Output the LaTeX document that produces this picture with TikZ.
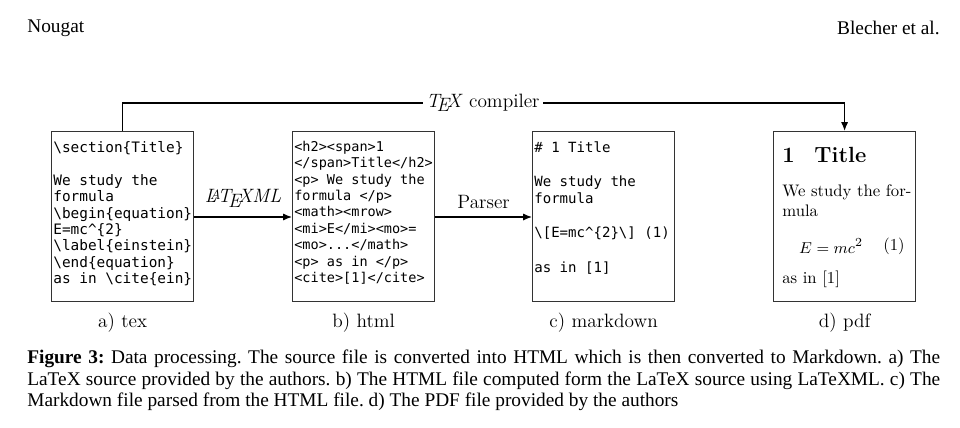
\documentclass[tikz,border=0pt]{standalone}
\usepackage{fontspec}
\usepackage{amsmath}
\usetikzlibrary{arrows.meta,positioning}
\newfontfamily\capfont{Liberation Serif}
\newfontfamily\codefont{DejaVu Sans Mono}
\tikzset{
  filebox/.style={draw=black!80, line width=0.7pt, minimum width=2.84cm,
    minimum height=3.4cm, inner sep=0pt, anchor=north west},
  code/.style={anchor=north west, inner sep=0pt, align=left},
  flow/.style={line width=0.7pt, -{Latex[length=5pt,width=4pt]}},
  steplabel/.style={inner sep=0pt, font=\fontsize{11}{13}\selectfont},
  pdftext/.style={inner sep=0pt, font=\fontsize{9.5}{11.4}\selectfont}
}

\begin{document}
\begin{tikzpicture}[x=0.02cm, y=-0.02cm]
  \useasboundingbox (0,0) rectangle (960,427);
  % running head of the page
  \node[anchor=west, inner sep=0pt, font=\capfont\fontsize{11}{13}\selectfont] (head-l) at (27,28) {Nougat};
  \node[anchor=east, inner sep=0pt, font=\capfont\fontsize{11}{13}\selectfont] (head-r) at (940,28) {Blecher et al.};
  % the four files, one box each, with their captions below
  \foreach \name/\xpos/\lab in {tex/51/{a) tex}, html/292/{b) html}, md/532/{c) markdown}, pdf/773/{d) pdf}} {
    \node[filebox] (box-\name) at (\xpos,131) {};
    \node[steplabel, below=6pt of box-\name] (lab-\name) {\lab};
  }
  % a) latex source
  \node[code, font=\codefont\fontsize{8.2}{9.35}\selectfont] (src-tex) at ([shift={(2,10)}]box-tex.north west)
    {\textbackslash section\{Title\}\\ ~\\We study the\\formula\\\textbackslash begin\{equation\}\\E=mc\textasciicircum\{2\}\\\textbackslash label\{einstein\}\\\textbackslash end\{equation\}\\as in \textbackslash cite\{ein\}};
  % b) html from latexml
  \node[code, font=\codefont\fontsize{7.7}{9.3}\selectfont] (src-html) at ([shift={(2,10)}]box-html.north west)
    {<h2><span>1\\</span>Title</h2>\\<p> We study the\\formula </p>\\<math><mrow>\\<mi>E</mi><mo>=\\<mo>...</math>\\<p> as in </p>\\<cite>[1]</cite>};
  % c) markdown
  \node[code, font=\codefont\fontsize{8}{9.75}\selectfont] (src-md) at ([shift={(2,10)}]box-md.north west)
    {\# 1 Title\\ ~\\We study the\\formula\\ ~\\\textbackslash[E=mc\textasciicircum\{2\}\textbackslash] (1)\\ ~\\as in [1]};
  % d) rendered pdf
  \node[anchor=west, inner sep=0pt, font=\bfseries\fontsize{12.5}{15}\selectfont] (pdf-title) at (782,155) {1\hspace{0.9em}Title};
  \node[pdftext, anchor=north west, align=left] (pdf-par) at (782,184) {We study the for-\\mula};
  \node[pdftext] (pdf-eq) at (831,246) {$E=mc^2$};
  \node[pdftext, anchor=east] (pdf-num) at (905,246) {(1)};
  \node[pdftext, anchor=west] (pdf-cite) at (782,279) {as in [1]};
  % conversions
  \draw[flow] (box-tex.east |- 0,217) -- node[above=2pt, font=\fontsize{11}{13}\selectfont\itshape] (lbl-latexml) {\LaTeX ML} (box-html.west |- 0,217);
  \draw[flow] (box-html.east |- 0,217) -- node[above=1pt, font=\fontsize{11}{13}\selectfont] (lbl-parser) {Parser} (box-md.west |- 0,217);
  \node[inner sep=2pt, font=\fontsize{11}{13}\selectfont] (lbl-tex) at (483,103) {\textit{\TeX} compiler};
  \draw[line width=0.7pt] (box-tex.north) |- (lbl-tex.west);
  \draw[flow] (lbl-tex.east) -| (box-pdf.north);
  % figure caption
  \node[anchor=north west, inner sep=0pt, text width=18.26cm, align=justify, font=\capfont\fontsize{11}{12.2}\selectfont] (caption) at (27,350)
    {\frenchspacing\textbf{Figure 3:} Data processing. The source file is converted into HTML which is then converted to Markdown. a) The\linebreak LaTeX source provided by the authors. b) The HTML file computed form the LaTeX source using LaTeXML. c) The\linebreak Markdown file parsed from the HTML file. d) The PDF file provided by the authors};
\end{tikzpicture}
\end{document}
